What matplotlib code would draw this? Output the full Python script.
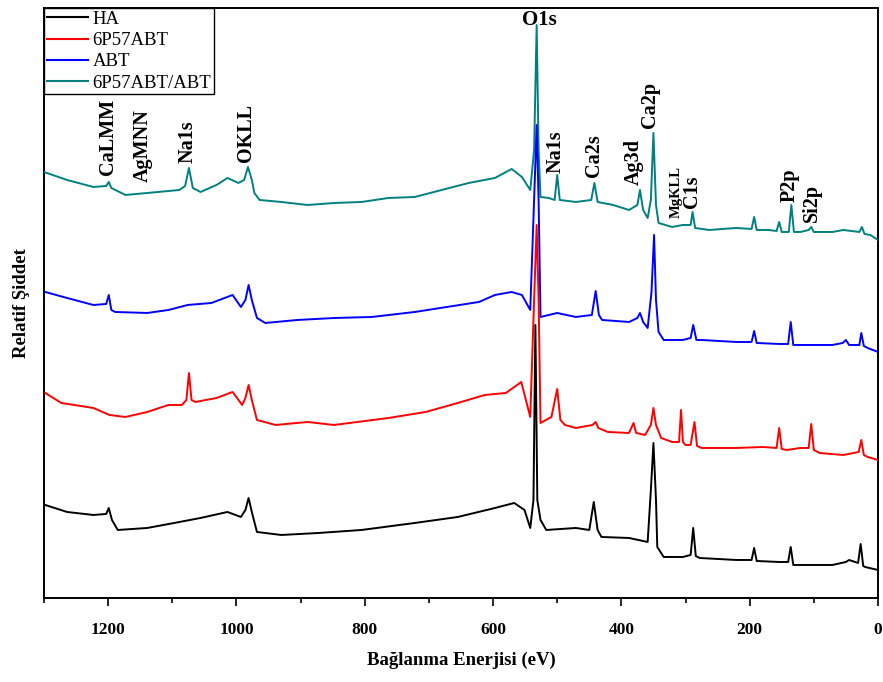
import matplotlib
matplotlib.use("Agg")
import matplotlib.pyplot as plt
from matplotlib.ticker import MultipleLocator

# ---- XPS survey spectra (binding energy in eV, intensity in arbitrary units) ----
teal_energy = [1300, 1264, 1223, 1203, 1199, 1195, 1173, 1139, 1089, 1080, 1074, 1068,
               1056, 1031, 1014, 997, 988, 982, 976, 972, 964, 930, 889, 847, 805, 763,
               722, 680, 638, 597, 571, 555, 542, 536, 532, 529, 526, 513, 504, 500, 496,
               471, 447, 442, 437, 413, 388, 375, 371, 366, 359, 354, 350, 346, 342, 321,
               304, 292, 289, 285, 263, 221, 197, 193, 189, 171, 158, 154, 150, 139, 135,
               131, 121, 108, 104, 100, 71, 54, 29, 25, 21, 12, 0]
teal_intensity = [426, 418, 411, 412, 416, 410, 403, 405, 408, 412, 430, 410,
                  406, 413, 420, 415, 418, 431, 418, 405, 398, 396, 393, 395, 396, 400,
                  401, 408, 415, 420, 429, 421, 408, 448, 573, 448, 401, 400, 398, 423, 398,
                  396, 398, 415, 396, 393, 388, 393, 408, 388, 380, 398, 465, 393, 375, 371,
                  373, 373, 386, 370, 368, 370, 369, 381, 368, 368, 367, 376, 366, 366, 393,
                  366, 366, 368, 371, 366, 366, 368, 366, 371, 364, 363, 358]

abt_energy = [1298, 1264, 1223, 1203, 1199, 1195, 1189, 1139, 1106, 1076, 1039, 1006,
              993, 986, 981, 976, 968, 955, 905, 847, 789, 722, 672, 622, 597, 571, 555,
              542, 536, 532, 529, 526, 500, 471, 446, 440, 435, 430, 388, 375, 371, 366,
              359, 353, 349, 346, 342, 334, 304, 292, 288, 283, 275, 221, 197, 193, 189,
              154, 140, 136, 132, 125, 71, 55, 50, 45, 29, 26, 22, 16, 0]
abt_intensity = [306, 300, 293, 294, 303, 288, 286, 285, 288, 293, 295, 303,
                 291, 298, 313, 298, 280, 275, 278, 280, 281, 286, 291, 296, 303, 306, 303,
                 288, 398, 473, 398, 281, 285, 281, 283, 307, 283, 278, 276, 280, 285, 276,
                 270, 306, 363, 298, 266, 258, 258, 260, 273, 258, 258, 256, 256, 267, 255,
                 254, 254, 276, 253, 253, 253, 255, 258, 253, 253, 265, 252, 250, 246]

p57_energy = [1298, 1273, 1223, 1198, 1173, 1139, 1106, 1085, 1078, 1074, 1070, 1064,
              1031, 1006, 991, 986, 981, 976, 968, 939, 889, 848, 763, 705, 655, 613, 580,
              556, 542, 536, 532, 529, 526, 509, 500, 495, 488, 471, 445, 440, 436, 421,
              388, 381, 377, 363, 354, 350, 346, 338, 321, 310, 307, 304, 300, 292, 286,
              282, 275, 221, 179, 158, 154, 150, 142, 121, 108, 104, 100, 91, 54, 30, 26,
              22, 16, 0]
p57_intensity = [205, 195, 190, 183, 181, 186, 193, 193, 198, 225, 198, 196,
                 200, 206, 193, 200, 213, 198, 178, 173, 176, 173, 180, 186, 195, 203, 205,
                 216, 181, 298, 373, 298, 175, 181, 209, 178, 173, 170, 173, 176, 170, 166,
                 165, 175, 165, 163, 173, 190, 173, 160, 156, 156, 188, 156, 153, 153, 176,
                 152, 150, 150, 151, 150, 170, 149, 148, 150, 150, 174, 148, 145, 143, 146,
                 158, 143, 141, 138]

ha_energy = [1298, 1264, 1223, 1203, 1199, 1194, 1185, 1139, 1097, 1056, 1014, 993,
             986, 981, 976, 968, 930, 872, 805, 722, 655, 597, 567, 551, 542, 537, 534,
             531, 526, 517, 471, 450, 443, 437, 431, 388, 359, 354, 350, 346, 344, 334,
             304, 292, 288, 284, 278, 221, 197, 193, 189, 154, 140, 136, 132, 127, 71,
             50, 45, 31, 27, 23, 20, 0]
ha_intensity = [93, 86, 83, 84, 90, 78, 68, 70, 75, 80, 86, 81,
                88, 100, 86, 66, 63, 65, 68, 75, 81, 90, 95, 88, 70, 98, 273,
                98, 78, 68, 70, 68, 96, 68, 61, 60, 56, 108, 155, 98, 51, 41,
                41, 43, 70, 42, 40, 38, 38, 50, 37, 36, 36, 51, 33, 33, 33,
                36, 38, 35, 54, 32, 31, 28]

series_labels = ["HA", "6P57ABT", "ABT", "6P57ABT/ABT"]
series_colors = ["#000000", "#ff0000", "#0000ff", "#008080"]

# Peak assignments: (label, x position in eV, bottom of text in intensity units)
peak_labels = [
    ("CaLMM", 1200, 423),
    ("AgMNN", 1146, 416),
    ("Na1s", 1076, 435),
    ("OKLL", 985, 436),
    ("Na1s", 503, 425),
    ("Ca2s", 443, 421),
    ("Ag3d", 380, 413),
    ("Ca2p", 355, 470),
    ("C1s", 290, 390),
    ("P2p", 137, 396),
    ("Si2p", 103, 376),
]
mg_label = ("MgKLL", 315, 380)

serif = ["Liberation Serif", "DejaVu Serif"]

fig = plt.figure(figsize=(8.83, 6.82), dpi=100)
ax = fig.add_axes([0.0498, 0.1232, 0.9445, 0.8651])

data = [(ha_energy, ha_intensity), (p57_energy, p57_intensity),
        (abt_energy, abt_intensity), (teal_energy, teal_intensity)]
for i, ((x, y), lab, col) in enumerate(zip(data, series_labels, series_colors)):
    ax.plot(x, y, color=col, lw=1.4, label=lab, zorder=10 - i)

ax.set_xlim(1300, 0)
ax.set_ylim(0, 590)
ax.set_yticks([])
ax.xaxis.set_major_locator(MultipleLocator(200))
ax.xaxis.set_minor_locator(MultipleLocator(100))
ax.tick_params(axis="x", which="major", direction="out", length=6, width=1.2, pad=11)
ax.tick_params(axis="x", which="minor", direction="out", length=3.5, width=1.2)
for s in ax.spines.values():
    s.set_linewidth(1.4)
for t in ax.get_xticklabels():
    t.set_fontfamily(serif)
    t.set_fontweight("bold")
    t.set_fontsize(12.5)

ax.set_xlabel("Bağlanma Enerjisi (eV)", fontfamily=serif, fontweight="bold",
              fontsize=13.5, labelpad=10)
ax.set_ylabel("Relatif Şiddet", fontfamily=serif, fontweight="bold",
              fontsize=13.5, labelpad=10)

for lab, xe, yb in peak_labels:
    ax.text(xe, yb, lab, rotation=90, ha="center", va="bottom", fontfamily=serif,
            fontweight="bold", fontsize=14.5, zorder=20)
ax.text(mg_label[1], mg_label[2], mg_label[0], rotation=90, ha="center", va="bottom",
        fontfamily=serif, fontweight="bold", fontsize=10.5, zorder=20)
ax.text(528, 578, "O1s", ha="center", va="center", fontfamily=serif,
        fontweight="bold", fontsize=15, zorder=20)

leg = ax.legend(loc="upper left", bbox_to_anchor=(0, 1), borderaxespad=0,
                prop={"family": serif, "size": 13.5}, frameon=True, fancybox=False,
                edgecolor="black", framealpha=1, handlelength=2.2, handletextpad=0.25,
                labelspacing=0.22, borderpad=0.15)
leg.get_frame().set_linewidth(1.0)
for line in leg.get_lines():
    line.set_linewidth(1.5)

fig.savefig("out.png", dpi=100)
